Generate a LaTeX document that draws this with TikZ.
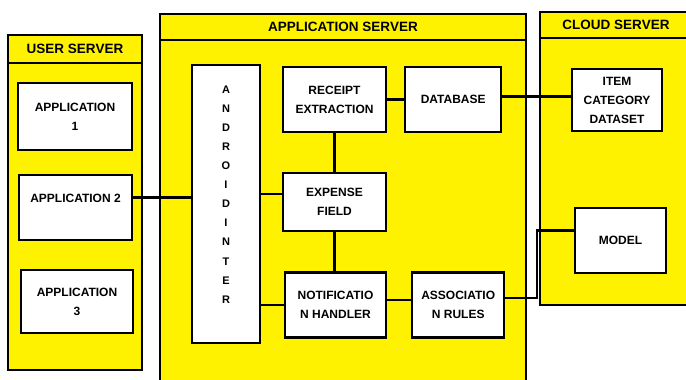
\documentclass[tikz,border=0pt]{standalone}
\usepackage{fontspec}
\setmainfont{Liberation Sans}
\usetikzlibrary{positioning}
\definecolor{srvyellow}{RGB}{255,242,0}

\begin{document}
\begin{tikzpicture}[x=1pt,y=-1pt]
   \clip (0,0) rectangle (686,380);
% Draw servers and their parts
   \begin{scope}[ line width=2.2pt,
                   server/.style={rectangle,draw,fill=srvyellow},
                   header/.style={rectangle,draw,fill=srvyellow,font=\fontsize{13.5}{15}\selectfont\bfseries},
                   block/.style={rectangle,draw,fill=white,align=center,inner sep=0pt,font=\fontsize{12}{19}\selectfont\bfseries} ]
     % user server
     \node [server,minimum width=134pt,minimum height=335pt] (user) at (75,202.5) {};
     \node [header,minimum width=134pt,minimum height=28pt]  (usertitle) at (75,49) {USER SERVER};
     \node [block,minimum width=114pt,minimum height=67pt]   (app1) at (75,116.5) {APPLICATION\\1};
     \node [block,minimum width=113pt,minimum height=65pt]   (app2) at (75.5,207.5) {APPLICATION 2\\~};
     \node [block,minimum width=112pt,minimum height=63pt]   (app3) at (77,301.5) {APPLICATION\\3};
     % application server
     \node [server,minimum width=366pt,minimum height=370pt] (appsrv) at (343,199) {};
     \node [header,minimum width=366pt,minimum height=26pt]  (appsrvtitle) at (343,27) {APPLICATION SERVER};
     \node [block,minimum width=68pt,minimum height=278pt,font=\fontsize{11}{19.1}\selectfont\bfseries]
                                                             (android) at (226,204) {A\\N\\D\\R\\O\\I\\D\\I\\N\\T\\E\\R\\~};
     \node [block,minimum width=103pt,minimum height=65pt]   (receipt) at (334.5,99.5) {RECEIPT\\EXTRACTION};
     \node [block,minimum width=96pt,minimum height=65pt]    (database) [right=17pt of receipt] {DATABASE};
     \node [block,minimum width=103pt,minimum height=58pt]   (expense) [below=39pt of receipt] {EXPENSE\\FIELD};
     \node [block,minimum width=101pt,minimum height=65pt]   (notif) [below=39pt of expense,xshift=1pt] {NOTIFICATIO\\N HANDLER};
     \node [block,minimum width=92pt,minimum height=65pt]    (assoc) [right=24pt of notif] {ASSOCIATIO\\N RULES};
     % cloud server
     \node [server,minimum width=152pt,minimum height=293pt] (cloud) at (616,158.5) {};
     \node [header,minimum width=152pt,minimum height=26pt]  (cloudtitle) at (616,25) {CLOUD SERVER};
     \node [block,minimum width=90pt,minimum height=62pt]    (item) at (617,100) {ITEM\\CATEGORY\\DATASET};
     \node [block,minimum width=91pt,minimum height=65pt]    (model) at (620.5,240.5) {MODEL};
     % connections
     \coordinate (a2) at ([yshift=10pt]app2.east);
     \draw (a2) -- (a2 -| android.west);
     \coordinate (ex) at ([yshift=8pt]expense.west);
     \draw (ex) -- (ex -| android.east);
     \draw (notif.west) -- (notif.west -| android.east);
     \draw (receipt.south) -- (expense.north);
     \draw (expense.south) -- (expense.south |- notif.north);
     \draw (receipt.east) -- (receipt.east -| database.west);
     \coordinate (db) at ([yshift=3pt]database.east);
     \draw (db) -- (db -| item.west);
     \coordinate (nh) at ([yshift=5pt]notif.east);
     \draw (nh) -- (nh -| assoc.west);
     \draw ([yshift=7pt]assoc.east) -- ++(32,0) |- ([yshift=10pt]model.west);
   \end{scope}
\end{tikzpicture}
\end{document}
